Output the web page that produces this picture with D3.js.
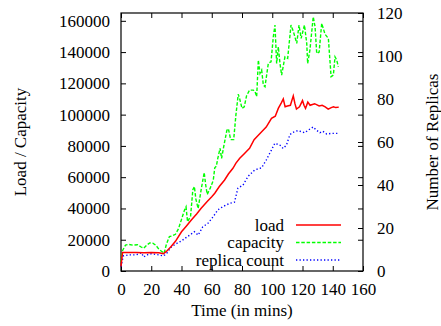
<!DOCTYPE html>
<html>
<head>
<meta charset="utf-8">
<script src="https://cdn.jsdelivr.net/npm/d3@7"></script>
<style>
  html, body { margin: 0; padding: 0; background: #fff; }
  svg { display: block; }
  svg text { font-family: "Liberation Serif", "Times New Roman", Times, "DejaVu Serif", serif; font-size: 17px; }
</style>
</head>
<body>
<svg id="chart" width="441" height="326"></svg>
<script>
// ---- data ----
const loadTime = [0,1,5,10,15,20,25,28,30,33,36,40,43,46.5,50,53,57,60,62,65,68.5,71,74,76,78.5,81,85,88,90,93,96,99.5,102,104,106,107.3,108.5,110,112,113.9,115,116,118,120,121,122,123.5,125,128,131,133,135,137,139,140.5,142,144];
const loadValue = [3000,11800,11800,11800,11700,11800,11700,11000,12500,15500,19000,25100,28500,32600,36500,40100,44500,47500,49700,54000,58200,62000,65700,69000,72100,74500,78500,84000,86000,89100,92000,97600,99000,104000,107500,110000,105000,105500,106000,112000,107000,103600,105000,109000,106000,104000,108000,106000,107000,105500,106000,105000,103500,104500,105000,104500,104800];

const capacityTime = [0,1,3,5,8,11,13,15,17,19,21,23,25,27,28.5,30,32,34,36,38,40,42,43,44,46,47.5,48.5,49.5,51,53,55,56,57,59,61,62,63,64,65.5,66.5,68,70,71,72.5,74.5,76,77.5,78.5,80,81.5,83,85,87.5,88.6,89.7,90.8,91.9,93,94.1,95.2,97.4,99.2,100.7,101.8,102.9,104,105.1,106.2,108.4,110.2,112.4,114,116.2,117.7,119.1,121.3,122.8,123.4,124.9,127.1,128.3,129.4,131,132.7,134.9,137.1,138.9,140.4,141.5,142.6,143.7];
const capacityValue = [6000,13000,16600,17000,16500,16800,15500,14500,16500,18000,17800,16500,14000,12500,11300,17000,22000,22500,23500,27000,33000,39000,41000,31500,35000,52000,54000,46000,40000,52000,63000,55000,49000,53000,58000,66000,67000,72000,78500,72000,80000,90000,91000,84000,84000,100000,113000,110000,104000,105000,112000,115700,115700,114700,111500,134900,126400,128500,119000,117900,132800,133800,149800,157300,132800,143400,132800,125300,137000,136000,157300,153000,145600,157300,148800,157300,145600,132800,141300,162600,156200,139200,140000,158400,151400,148800,124300,125300,137000,135000,130600];

const replicaTime = [0,1.5,5,10,12,13.5,15,17,20,25,28,30,33,36,40,43,46,48.5,51,54,57.5,61,64,67.5,72,75,77.3,80.7,84,88.4,93,96,99.5,101.7,105,107.2,109.4,111.6,113,117,121.5,124,127,129,131.5,133.5,136,139,142.5,144];
const replicaValue = [2,7,7.5,7.5,8,8.5,6.5,7.5,8,7.5,7,8,11,12.5,14,15.5,17,18.3,16.7,20.5,22.2,25.3,28.4,30,31.5,32,38.5,40,44,47,48,51.6,56.3,59.4,58.6,57,58.6,63.3,64.3,65.3,64.3,65.6,67,65.6,64.3,65,63.7,64,64,64];

const xTicks = [0,20,40,60,80,100,120,140,160];
const yLeftTicks = [0,20000,40000,60000,80000,100000,120000,140000,160000];
const yRightTicks = [0,20,40,60,80,100,120];

const seriesNames = ["load", "capacity", "replica count"];

// ---- layout ----
const svg = d3.select("#chart");
const pL = 121, pR = 363, pT = 13, pB = 271;

const x = d3.scaleLinear().domain([0,160]).range([pL, pR]);
const yL = d3.scaleLinear().domain([0,165000]).range([pB, pT]);
const yR = d3.scaleLinear().domain([0,120]).range([pB, pT]);

function styleAxis(g) {
  g.attr("font-family", null).attr("font-size", null);
  g.select(".domain").remove();
  g.selectAll("line").attr("stroke", "#000").attr("stroke-width", 1);
  g.selectAll("text").attr("fill", "#000");
}

svg.append("g").attr("transform", `translate(0,${pB})`)
  .call(d3.axisBottom(x).tickValues(xTicks).tickFormat(d3.format("d")).tickSizeInner(-5).tickSizeOuter(0).tickPadding(12))
  .call(styleAxis);
svg.append("g").attr("transform", `translate(0,${pT})`)
  .call(d3.axisTop(x).tickValues(xTicks).tickFormat("").tickSizeInner(-5).tickSizeOuter(0))
  .call(styleAxis);
svg.append("g").attr("transform", `translate(${pL},0)`)
  .call(d3.axisLeft(yL).tickValues(yLeftTicks).tickFormat(d3.format("d")).tickSizeInner(-5).tickSizeOuter(0).tickPadding(11))
  .call(styleAxis);
svg.append("g").attr("transform", `translate(${pR},0)`)
  .call(d3.axisRight(yL).tickValues(yLeftTicks).tickFormat("").tickSizeInner(-5).tickSizeOuter(0))
  .call(styleAxis);
svg.append("g").attr("transform", `translate(${pR},0)`)
  .call(d3.axisRight(yR).tickValues(yRightTicks).tickFormat(d3.format("d")).tickSizeInner(-5).tickSizeOuter(0).tickPadding(14))
  .call(styleAxis);

svg.append("rect")
  .attr("x", pL).attr("y", pT)
  .attr("width", pR - pL).attr("height", pB - pT)
  .attr("fill", "none").attr("stroke", "#000").attr("stroke-width", 1.2);

const lineL = d3.line().x(d => x(d[0])).y(d => yL(d[1]));
const lineR = d3.line().x(d => x(d[0])).y(d => yR(d[1]));

const capData = d3.zip(capacityTime, capacityValue);
const loadData = d3.zip(loadTime, loadValue);
const repData = d3.zip(replicaTime, replicaValue);

const styles = [
  {color: "#ff0000", dash: null},
  {color: "#00ff00", dash: "3.5,1.8"},
  {color: "#0000ff", dash: "1.3,2.2"}
];

svg.append("path").datum(repData).attr("d", lineR)
  .attr("fill", "none").attr("stroke", styles[2].color).attr("stroke-width", 1.4)
  .attr("stroke-dasharray", styles[2].dash);
svg.append("path").datum(capData).attr("d", lineL)
  .attr("fill", "none").attr("stroke", styles[1].color).attr("stroke-width", 1.4)
  .attr("stroke-dasharray", styles[1].dash);
svg.append("path").datum(loadData).attr("d", lineL)
  .attr("fill", "none").attr("stroke", styles[0].color).attr("stroke-width", 1.5);

const legendY = [225, 242.5, 260];
seriesNames.forEach((name, i) => {
  svg.append("text")
    .attr("x", 284).attr("y", legendY[i])
    .attr("dy", "0.35em")
    .attr("text-anchor", "end")
    .text(name);
  svg.append("line")
    .attr("x1", 296).attr("x2", 341)
    .attr("y1", legendY[i]).attr("y2", legendY[i])
    .attr("stroke", styles[i].color).attr("stroke-width", 1.5)
    .attr("stroke-dasharray", styles[i].dash);
});

svg.append("text")
  .attr("transform", `translate(20,${(pT+pB)/2}) rotate(-90)`)
  .attr("text-anchor", "middle").attr("dy", "0.35em")
  .text("Load / Capacity");
svg.append("text")
  .attr("transform", `translate(432,${(pT+pB)/2}) rotate(-90)`)
  .attr("text-anchor", "middle").attr("dy", "0.35em")
  .text("Number of Replicas");
svg.append("text")
  .attr("x", (pL+pR)/2).attr("y", 316)
  .attr("text-anchor", "middle")
  .text("Time (in mins)");
</script>
</body>
</html>
